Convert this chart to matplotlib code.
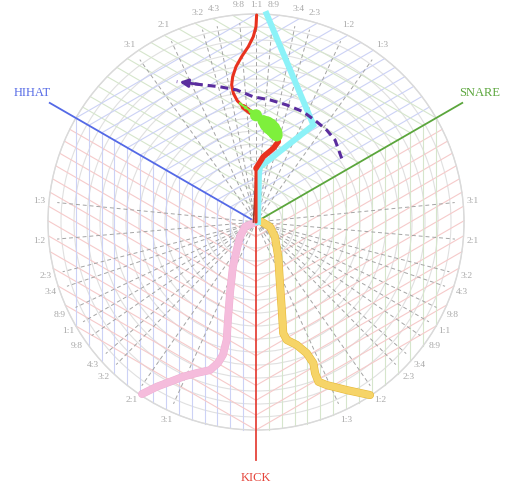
import numpy as np
import matplotlib.pyplot as plt
from matplotlib import patheffects as pe

# drum axes: direction in degrees, colour and label
axis_names = ["SNARE", "HIHAT", "KICK"]
axis_angles = [30, 150, 270]
axis_colors = ["#5ba63c", "#5469e6", "#e5443a"]
grid_colors = ["#d6e6cc", "#ccd2f6", "#f6caca"]

# ratio rays drawn inside every sector (first:second)
ratio_labels = ["3:1", "2:1", "3:2", "4:3", "9:8", "1:1", "8:9", "3:4", "2:3", "1:2", "1:3"]
ratio_a = [3, 2, 3, 4, 9, 1, 8, 3, 2, 1, 1]
ratio_b = [1, 1, 2, 3, 8, 1, 9, 4, 3, 2, 3]
# sectors as (first axis, second axis) indices into the axis lists
sectors = [(1, 0), (0, 2), (2, 1)]

# trajectories (x, y in units of the outer radius)
red_x = [0.0, 0.0, 0.035, 0.083, 0.107, 0.104, 0.087, 0.064, 0.035, 0.003, -0.029, -0.061, -0.09,
         -0.109, -0.117, -0.112, -0.096, -0.069, -0.037, -0.013, 0.0, 0.003]
red_y = [0.0, 0.258, 0.314, 0.354, 0.386, 0.418, 0.439, 0.462, 0.484, 0.51, 0.53, 0.554, 0.583,
         0.619, 0.659, 0.699, 0.747, 0.795, 0.843, 0.891, 0.939, 0.995]
cyan_x = [0.0096, 0.014, 0.019, 0.276, 0.051]
cyan_y = [0.0, 0.226, 0.264, 0.466, 1.0]
green_x = [-0.077, -0.05, -0.025, 0.0, 0.035, 0.052, 0.066, 0.08, 0.092, 0.1]
green_y = [0.57, 0.55, 0.532, 0.513, 0.486, 0.472, 0.46, 0.447, 0.43, 0.415]
green_level = [3, 6, 10, 75, 70, 120, 140, 130, 110, 70]
purple_x = [0.412, 0.38, 0.34, 0.292, 0.227, 0.148, 0.067, -0.013, -0.093, -0.173, -0.253, -0.381]
purple_y = [0.306, 0.394, 0.442, 0.482, 0.53, 0.5625, 0.587, 0.602, 0.635, 0.65, 0.659, 0.675]
pink_x = [0.003, -0.053, -0.077, -0.093, -0.111, -0.125, -0.135, -0.141, -0.159, -0.183, -0.221, -0.285,
          -0.351, -0.413, -0.477, -0.548]
pink_y = [0.001, -0.023, -0.071, -0.135, -0.215, -0.341, -0.471, -0.567, -0.639, -0.678, -0.712, -0.726,
          -0.744, -0.768, -0.792, -0.827]
gold_x = [0.027, 0.067, 0.091, 0.107, 0.115, 0.124, 0.131, 0.148, 0.196, 0.244, 0.276, 0.284, 0.3, 0.34,
          0.436, 0.548]
gold_y = [0.001, -0.023, -0.071, -0.167, -0.293, -0.423, -0.535, -0.567, -0.591, -0.631, -0.679, -0.727,
          -0.768, -0.784, -0.808, -0.832]

SERIF = ["Liberation Serif", "DejaVu Serif"]


def unit(deg):
    r = np.deg2rad(deg)
    return np.array([np.cos(r), np.sin(r)])


def to_circle(p0, u):
    # distance along u from p0 to the unit circle
    b = p0 @ u
    return -b + np.sqrt(b * b - p0 @ p0 + 1)


fig = plt.figure(figsize=(5.08, 4.92), dpi=100)
ax = fig.add_axes([0, 0, 1, 1])
ax.set_xlim(-256 / 208, 252 / 208)
ax.set_ylim(-270 / 208, 222 / 208)
ax.axis("off")

# concentric rings
for r in np.arange(1, 17) / 16:
    ax.add_patch(plt.Circle((0, 0), r, fill=False, ec="#e0e0e0", lw=0.8, zorder=1))

# skewed grid: in each sector, lines of constant amount for its two drums
step = 1 / 14
for i, j in sectors:
    ui, uj = unit(axis_angles[i]), unit(axis_angles[j])
    for k in range(1, 15):
        for start, direction, col in ((k * step * ui, uj, grid_colors[i]),
                                      (k * step * uj, ui, grid_colors[j])):
            t = to_circle(start, direction)
            end = start + t * direction
            ax.plot([start[0], end[0]], [start[1], end[1]], color=col, lw=0.8, zorder=1.2)

# ratio rays with their labels
for i, j in sectors:
    ui, uj = unit(axis_angles[i]), unit(axis_angles[j])
    for a, b, lab in zip(ratio_a, ratio_b, ratio_labels):
        d = a ** 0.8 * ui + b ** 0.8 * uj
        d = d / np.linalg.norm(d)
        ax.plot([0, 0.96 * d[0]], [0, 0.96 * d[1]], color="#a4a4a4", lw=0.7,
                ls=(0, (4, 3)), zorder=1.5)
        ax.text(1.045 * d[0], 1.045 * d[1], lab, ha="center", va="center",
                fontsize=6.8, color="#a8a8a8", family=SERIF)

# outer rim
ax.add_patch(plt.Circle((0, 0), 1, fill=False, ec="#dadada", lw=1.0, zorder=1.6))

# drum axes
for name, ang, col in zip(axis_names, axis_angles, axis_colors):
    u = unit(ang)
    ax.plot([0, 1.145 * u[0]], [0, 1.145 * u[1]], color=col, lw=1.3, zorder=2)
label_pos = {"SNARE": (1.077, 0.62), "HIHAT": (-1.077, 0.62), "KICK": (0, -1.231)}
for name, col in zip(axis_names, axis_colors):
    x, y = label_pos[name]
    ax.text(x, y, name, ha="center", va="center", fontsize=9, color=col, family=SERIF)

# trajectories
ax.plot(pink_x, pink_y, color="#f5bcdc", lw=5, solid_capstyle="round", solid_joinstyle="round", zorder=3,
        path_effects=[pe.Stroke(linewidth=5.6, foreground="#eeaed2"), pe.Normal()])
ax.plot(gold_x, gold_y, color="#f6d468", lw=5, solid_capstyle="round", solid_joinstyle="round", zorder=3,
        path_effects=[pe.Stroke(linewidth=5.8, foreground="#e6b838"), pe.Normal()])
ax.plot(cyan_x, cyan_y, color="#8cf2f8", lw=4.3, solid_joinstyle="miter", zorder=3.1)
ax.plot([-0.012, 0.002], [0.0, 0.27], color="#8a3f30", lw=1.2, zorder=3.2)
ax.plot(red_x, red_y, color="#e8321e", lw=2.2, solid_capstyle="round", solid_joinstyle="round", zorder=3.3)
ax.plot(red_x[1:12], red_y[1:12], color="#e8321e", lw=4.0, solid_capstyle="round",
        solid_joinstyle="round", zorder=3.3)
ax.plot(green_x, green_y, color="#7ef03c", lw=1.5, zorder=3.4)
ax.scatter(green_x, green_y, s=green_level, color="#7ef03c", lw=0, zorder=3.5)
ax.plot(purple_x, purple_y, color="#5a2d9e", lw=2.2, ls=(0, (2.6, 1.6)), zorder=3.6)
ax.annotate("", xy=(purple_x[-1], purple_y[-1]), xytext=(purple_x[-2], purple_y[-2]),
            arrowprops=dict(arrowstyle="-|>", color="#5a2d9e", lw=2, mutation_scale=12), zorder=3.6)

fig.savefig("out.png", dpi=100)
